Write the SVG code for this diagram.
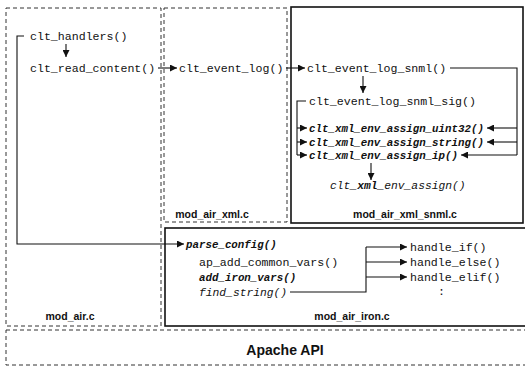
<svg xmlns="http://www.w3.org/2000/svg" width="525" height="368" viewBox="0 0 525 368">
<style>
.dash{fill:none;stroke:#333;stroke-width:1;stroke-dasharray:4 3}
.solid{fill:none;stroke:#111;stroke-width:1.6}
.c{fill:none;stroke:#111;stroke-width:1.1}
.m{font-family:"Liberation Mono","DejaVu Sans Mono",monospace;font-size:11.6px;fill:#111}
.bi{font-family:"Liberation Mono","DejaVu Sans Mono",monospace;font-size:10.8px;font-weight:bold;font-style:italic;fill:#111}
.it{font-family:"Liberation Mono","DejaVu Sans Mono",monospace;font-size:11.3px;font-style:italic;fill:#111}
.lbl{font-family:"Liberation Sans",Arial,sans-serif;font-size:10.5px;font-weight:bold;fill:#111;text-anchor:middle}
.big{font-family:"Liberation Sans",Arial,sans-serif;font-size:14px;font-weight:bold;fill:#111;text-anchor:middle}
</style>
<defs>
<marker id="ah" viewBox="0 0 8 8" refX="8" refY="4" markerWidth="7" markerHeight="7" markerUnits="userSpaceOnUse" orient="auto">
<path d="M0,0 L8,4 L0,8 z" fill="#111"/>
</marker>
</defs>

<g id="apache">
<rect class="dash" x="6" y="330" width="530" height="35"/>
<text class="big" x="285" y="355">Apache API</text>
</g>

<g id="mod_air">
<rect class="dash" x="6" y="8" width="155" height="318"/>
<text class="lbl" x="70" y="320">mod_air.c</text>
<text class="m" x="30" y="40">clt_handlers()</text>
<text class="m" x="30" y="72">clt_read_content()</text>
</g>

<g id="mod_air_xml">
<rect class="dash" x="164" y="8" width="123" height="214"/>
<text class="lbl" x="212" y="218">mod_air_xml.c</text>
<text class="m" x="179" y="72">clt_event_log()</text>
</g>

<g id="mod_air_xml_snml">
<rect class="solid" x="291" y="7" width="232" height="216"/>
<text class="lbl" x="405" y="218">mod_air_xml_snml.c</text>
<text class="m" x="307" y="72">clt_event_log_snml()</text>
<text class="m" x="309" y="105">clt_event_log_snml_sig()</text>
<text class="bi" x="309" y="132">clt_xml_env_assign_uint32()</text>
<text class="bi" x="309" y="146">clt_xml_env_assign_string()</text>
<text class="bi" x="309" y="159">clt_xml_env_assign_ip()</text>
<text class="it" x="330" y="189">clt_<tspan font-weight="bold">xml</tspan>_env_assign()</text>
</g>

<g id="mod_air_iron">
<rect class="solid" x="165" y="228" width="370" height="98"/>
<text class="lbl" x="352" y="320">mod_air_iron.c</text>
<text class="bi" x="186" y="248">parse_config()</text>
<text class="m" x="199" y="266">ap_add_common_vars()</text>
<text class="bi" x="199" y="281">add_iron_vars()</text>
<text class="it" x="199" y="296">find_string()</text>
<text class="m" x="410" y="251">handle_if()</text>
<text class="m" x="410" y="266">handle_else()</text>
<text class="m" x="410" y="281">handle_elif()</text>
<text class="m" x="438" y="295">:</text>
</g>

<g id="connectors">
<path class="c" d="M66,44 V57" marker-end="url(#ah)"/>
<path class="c" d="M158,68 H177" marker-end="url(#ah)"/>
<path class="c" d="M286,68 H305" marker-end="url(#ah)"/>
<path class="c" d="M24,36 H17 V244 H184" marker-end="url(#ah)"/>
<path class="c" d="M450,68 H517 V155"/>
<path class="c" d="M517,128 H487" marker-end="url(#ah)"/>
<path class="c" d="M517,142 H487" marker-end="url(#ah)"/>
<path class="c" d="M517,155 H461" marker-end="url(#ah)"/>
<path class="c" d="M363,76 V93" marker-end="url(#ah)"/>
<path class="c" d="M306,101 H297 V155"/>
<path class="c" d="M297,128 H307" marker-end="url(#ah)"/>
<path class="c" d="M297,142 H307" marker-end="url(#ah)"/>
<path class="c" d="M297,155 H307" marker-end="url(#ah)"/>
<path class="c" d="M371,163 V180" marker-end="url(#ah)"/>
<path class="c" d="M290,292 H366 V247"/>
<path class="c" d="M366,247 H407" marker-end="url(#ah)"/>
<path class="c" d="M366,262 H407" marker-end="url(#ah)"/>
<path class="c" d="M366,277 H407" marker-end="url(#ah)"/>
</g>
</svg>
